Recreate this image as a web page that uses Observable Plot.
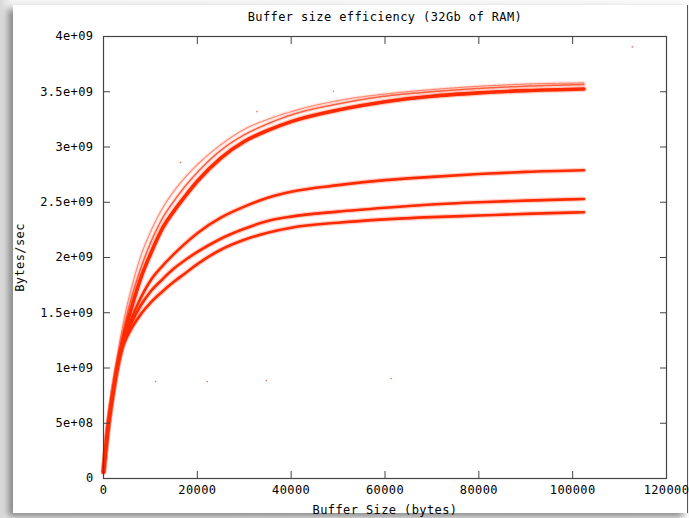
<!DOCTYPE html>
<html><head><meta charset="utf-8">
<script src="https://cdn.jsdelivr.net/npm/d3@7"></script>
<script src="https://cdn.jsdelivr.net/npm/@observablehq/plot@0.6"></script>
<style>
html,body{margin:0;padding:0;width:689px;height:518px;overflow:hidden;background:#fff;}
#page{position:relative;width:689px;height:518px;background:linear-gradient(to right,#d8d8d8,#f4f4f4 12px,#fafafa);}
#box{position:absolute;left:13px;top:5px;width:674px;height:508px;background:#fff;box-shadow:-5px 4px 7px rgba(0,0,0,0.45);border-right:1px solid #555;}
#title{position:absolute;left:385px;top:10px;transform:translateX(-50%);white-space:nowrap;font:12px "DejaVu Sans Mono",monospace;letter-spacing:0.4px;color:#000;}
#chart{position:absolute;left:0;top:28px;}
</style></head>
<body><div id="page"><div id="box"></div><div id="title">Buffer size efficiency (32Gb of RAM)</div><div id="chart"></div></div>
<script>
// Buffer size (bytes) sampled along the curves
const xs = [0, 1000, 2000, 3000, 4000, 5000, 6000, 8000, 10000, 12500, 15000, 17500, 20000, 25000, 30000, 35000, 40000, 50000, 60000, 70000, 80000, 90000, 102400];
// Throughput in units of 1e9 bytes/sec
const mainY  = [0.06, 0.47, 0.77, 1.02, 1.23, 1.40, 1.55, 1.82, 2.03, 2.26, 2.42, 2.56, 2.69, 2.90, 3.05, 3.15, 3.23, 3.335, 3.41, 3.46, 3.49, 3.51, 3.525];
const midY   = [0.06, 0.49, 0.80, 1.06, 1.29, 1.48, 1.64, 1.91, 2.13, 2.35, 2.51, 2.65, 2.77, 2.97, 3.11, 3.21, 3.29, 3.39, 3.46, 3.50, 3.53, 3.55, 3.565];
const outerY = [0.06, 0.51, 0.84, 1.12, 1.36, 1.56, 1.73, 2.02, 2.23, 2.44, 2.60, 2.73, 2.84, 3.02, 3.16, 3.25, 3.32, 3.42, 3.48, 3.52, 3.55, 3.57, 3.58];
const y278   = [0.06, 0.47, 0.77, 1.02, 1.20, 1.34, 1.45, 1.64, 1.79, 1.92, 2.03, 2.13, 2.22, 2.36, 2.46, 2.54, 2.595, 2.655, 2.70, 2.73, 2.755, 2.775, 2.79];
const y252   = [0.06, 0.47, 0.77, 1.02, 1.19, 1.31, 1.41, 1.57, 1.69, 1.80, 1.90, 1.98, 2.05, 2.17, 2.26, 2.33, 2.37, 2.415, 2.45, 2.48, 2.50, 2.515, 2.53];
const y240   = [0.06, 0.47, 0.77, 1.01, 1.18, 1.28, 1.36, 1.49, 1.59, 1.69, 1.78, 1.86, 1.94, 2.07, 2.16, 2.225, 2.27, 2.315, 2.345, 2.365, 2.38, 2.395, 2.41];
// stray measurements
const outX = [11100, 22100, 34700, 61300, 112700, 16400, 32700, 49000];
const outY = [0.877, 0.877, 0.886, 0.904, 3.906, 2.86, 3.32, 3.505];
// axes
const xTicks = [0, 20000, 40000, 60000, 80000, 100000, 120000];
const xTickLabels = ["0", "20000", "40000", "60000", "80000", "100000", "120000"];
const yTicks = [0, 0.5, 1, 1.5, 2, 2.5, 3, 3.5, 4];
const yTickLabels = ["0", "5e+08", "1e+09", "1.5e+09", "2e+09", "2.5e+09", "3e+09", "3.5e+09", "4e+09"];

const rows = ys => xs.map((x, i) => ({x, y: ys[i]}));
const RED = "#ff2a00";
const xl = new Map(xTicks.map((t, i) => [t, xTickLabels[i]]));
const yl = new Map(yTicks.map((t, i) => [t, yTickLabels[i]]));
const curve = "monotone-x";
const band = (ys, w, o, dash) => [
  Plot.line(rows(ys), {x: "x", y: "y", curve, stroke: RED, strokeWidth: w + 2.5, strokeOpacity: 0.22 * o}),
  Plot.line(rows(ys), {x: "x", y: "y", curve, stroke: RED, strokeWidth: w, strokeOpacity: o, strokeDasharray: dash})
];
const AX = "#444";
const chart = Plot.plot({
  width: 689, height: 490,
  marginLeft: 103, marginRight: 23, marginTop: 8, marginBottom: 40,
  style: {font: '12px "DejaVu Sans Mono", monospace', letterSpacing: "0.4px", color: "#000", background: "transparent"},
  x: {domain: [0, 120000]},
  y: {domain: [0, 4]},
  marks: [
    ...band(outerY, 1.2, 0.5, "1.5,1"),
    ...band(midY, 1.5, 0.7, "2,0.8"),
    ...band(y240, 2.6, 1),
    ...band(y252, 2.6, 1),
    ...band(y278, 2.6, 1),
    ...band(mainY, 3.6, 1),
    Plot.dot(outX.map((x, i) => ({x, y: outY[i]})), {x: "x", y: "y", r: 0.8, fill: RED, fillOpacity: 0.7, stroke: "none"}),
    Plot.frame({stroke: AX, strokeWidth: 1.2}),
    Plot.axisX(xTicks, {tickSize: 0, tickPadding: 7, tickFormat: d => xl.get(d), label: "Buffer Size (bytes)", labelAnchor: "center", labelArrow: "none", labelOffset: 35, fill: "#000"}),
    Plot.axisX(xTicks, {anchor: "bottom", tickSize: -7, text: null, label: null, stroke: AX}),
    Plot.axisX(xTicks, {anchor: "top", tickSize: -7, text: null, label: null, stroke: AX}),
    Plot.axisY(yTicks, {tickSize: 0, tickPadding: 10, tickFormat: d => yl.get(d), label: "Bytes/sec", labelAnchor: "center", labelArrow: "none", labelOffset: 88, fill: "#000"}),
    Plot.axisY(yTicks, {anchor: "left", tickSize: -7, text: null, label: null, stroke: AX}),
    Plot.axisY(yTicks, {anchor: "right", tickSize: -7, text: null, label: null, stroke: AX})
  ]
});
document.getElementById("chart").appendChild(chart);
</script></body></html>
